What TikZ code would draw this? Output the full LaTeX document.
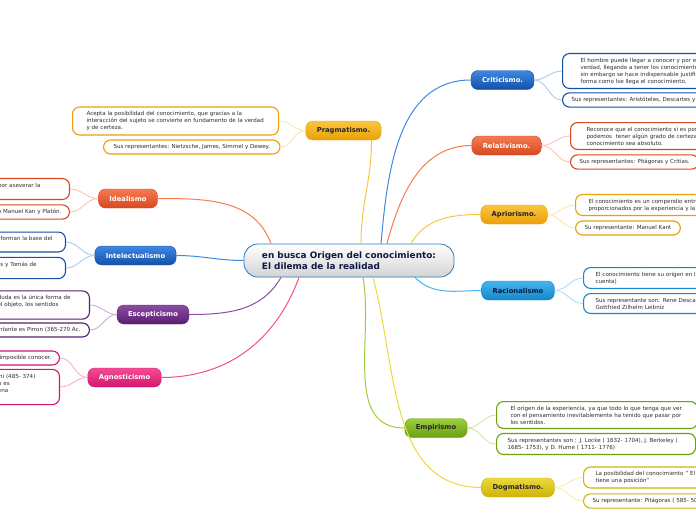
\documentclass[tikz,border=0pt]{standalone}
\usepackage{fontspec}
\setmainfont{DejaVu Sans}
\usetikzlibrary{positioning}

\definecolor{azulA}{HTML}{3D88E2}\definecolor{azulB}{HTML}{1550A8}
\definecolor{rojoA}{HTML}{F47B52}\definecolor{rojoB}{HTML}{D8481F}
\definecolor{oroA}{HTML}{FAC63E}\definecolor{oroB}{HTML}{E9A008}
\definecolor{celesteA}{HTML}{44B6EE}\definecolor{celesteB}{HTML}{1586CA}
\definecolor{verdeA}{HTML}{9CCD3C}\definecolor{verdeB}{HTML}{6AA012}
\definecolor{amarilloA}{HTML}{ECD840}\definecolor{amarilloB}{HTML}{CDB406}
\definecolor{moradoA}{HTML}{8C4CA4}\definecolor{moradoB}{HTML}{571F70}
\definecolor{rosaA}{HTML}{F44C94}\definecolor{rosaB}{HTML}{D21670}
\definecolor{marco}{HTML}{2C7CBC}
\definecolor{tinta}{HTML}{0C1A44}

\begin{document}
\begin{tikzpicture}[x=1pt, y=-1pt,
    tema/.style n args={3}{rounded corners=7pt, top color=#1, bottom color=#2, draw=#2, text=#3,
      font=\fontsize{6.8}{8}\selectfont\bfseries, minimum height=19pt, inner xsep=11pt, inner ysep=0pt},
    hoja/.style={draw=#1, fill=white, line width=1.1pt, rounded corners=7pt, align=left,
      font=\fontsize{5.55}{7}\selectfont, text=black!82, inner xsep=9pt, inner ysep=4.3pt},
    centro/.style={rounded corners=14pt, top color=white, bottom color=black!17, draw=marco,
      line width=0.8pt, font=\fontsize{8.9}{11.2}\selectfont\bfseries, text=tinta, align=left,
      inner xsep=18pt, minimum height=33pt},
    enlace/.style={draw=#1, line width=1pt},
    rama/.style={draw=#1!45, line width=0.9pt}]
  \useasboundingbox (0,0) rectangle (696,520);
  \clip (0,0) rectangle (696,520);

  % Nodos
  \node[centro] (c) at (349,260.5) {en busca Origen del conocimiento:\\El dilema de la realidad};

  \node[tema={azulA}{azulB}{white}] (crit) at (502.5,80) {Criticismo.};
  \node[tema={rojoA}{rojoB}{white}] (rel) at (506.5,145.5) {Relativismo.};
  \node[tema={oroA}{oroB}{black!85}] (apr) at (514,214.5) {Apriorismo.};
  \node[tema={celesteA}{celesteB}{tinta}] (rac) at (518,290.5) {Racionalismo};
  \node[tema={verdeA}{verdeB}{black!85}] (emp) at (436,428) {Empirismo};
  \node[tema={amarilloA}{amarilloB}{black!85}] (dog) at (518,487.5) {Dogmatismo.};
  \node[tema={oroA}{oroB}{black!85}] (prag) at (343.5,130.5) {Pragmatismo.};
  \node[tema={rojoA}{rojoB}{white}] (idea) at (128,198.5) {Idealismo};
  \node[tema={azulA}{azulB}{white}] (inte) at (135.5,255.5) {Intelectualismo};
  \node[tema={moradoA}{moradoB}{white}] (esce) at (153,314.5) {Escepticismo};
  \node[tema={rosaA}{rosaB}{white}] (agno) at (124.5,377.5) {Agnosticismo};

  % Hojas derecha
  \node[hoja=azulB, anchor=west, inner xsep=18pt, text width=185pt] (critA) at (562,71)
    {El hombre puede llegar a conocer y por ende alcanzar la\\verdad, llegando a tener los conocimientos necesarios,\\sin embargo se hace indispensable justificar de alguna\\forma como lse llega el conocimiento.};
  \node[hoja=azulB, anchor=west] (critB) at (562,100)
    {Sus representantes: Aristóteles, Descartes y Kant.};
  \node[hoja=rojoB, anchor=west, inner xsep=16pt, text width=185pt] (relA) at (570,136)
    {Reconoce que el conocimiento si es posible, pero\\podemos\ \ tener algún grado de certeza, sin que el\\conocimiento sea absoluto.};
  \node[hoja=rojoB, anchor=west] (relB) at (570,162)
    {Sus representantes: Pitágoras y Critias.};
  \node[hoja=oroB, anchor=west, inner xsep=13pt, text width=185pt] (aprA) at (575,205)
    {El conocimiento es un compendio entre los elementos\\proporcionados por la experiencia y la razón.};
  \node[hoja=oroB, anchor=west] (aprB) at (575,228)
    {Su representante: Manuel Kant};
  \node[hoja=celesteB, anchor=west, inner xsep=12pt, text width=185pt] (racA) at (583,278)
    {El conocimiento tiene su origen en la razón (por su propia\\cuenta)};
  \node[hoja=celesteB, anchor=west, inner xsep=12pt, text width=185pt] (racB) at (583,303.5)
    {Sus representante son: Rene Descartes, Baruch Spinoza y\\Gottfried Zilhelm Leibniz};
  \node[hoja=verdeB, anchor=west, inner xsep=14pt, text width=173pt] (empA) at (496,415)
    {El origen de la experiencia, ya que todo lo que tenga que ver\\con el pensamiento inevitablemente ha tenido que pasar por\\los sentidos.};
  \node[hoja=verdeB, anchor=west, inner xsep=11pt, text width=177pt] (empB) at (496,444)
    {Sus representantes son : J. Locke ( 1632- 1704), J. Berkeley (\\1685- 1753), y D. Hume ( 1711- 1776)};
  \node[hoja=amarilloB, anchor=west, inner xsep=12pt, text width=185pt] (dogA) at (583,477.5)
    {La posibilidad del conocimiento " El pensamiento no\\tiene una posición"};
  \node[hoja=amarilloB, anchor=west] (dogB) at (583,501)
    {Su representante: Pitágoras ( 585- 500 a.C.)};

  % Hojas izquierda
  \node[hoja=oroB, anchor=west, inner xsep=14pt, text width=178pt] (pragA) at (72,121)
    {Acepta la posibilidad del conocimiento, que gracias a la\\interacción del sujeto se convierte en fundamento de la verdad\\y de certeza.};
  \node[hoja=oroB, anchor=west, inner xsep=10pt] (pragB) at (103,147)
    {Sus representantes: Nietzsche, James, Simmel y Dewey.};
  \node[hoja=rojoB, anchor=east, inner xsep=8pt, text width=147pt] (ideaA) at (70,189)
    {Los idealistas se caracterizan por aseverar la\\primacía de las ideas.};
  \node[hoja=rojoB, anchor=east, inner xsep=8pt] (ideaB) at (70,212)
    {Sus representantes son Manuel Kan y Platón.};
  \node[hoja=azulB, anchor=east, inner xsep=13pt] (inteA) at (66,242)
    {El pensamiento y la experiencia forman la base del\\conocimiento.};
  \node[hoja=azulB, anchor=east, inner xsep=8pt, text width=151pt] (inteB) at (66,268)
    {Sus representantes son Aristóteles y Tomás de\\Aquino.};
  \node[hoja=moradoB, anchor=east, inner xsep=8pt, text width=224pt] (esceA) at (90,305)
    {Considera que el sujeto no puede conocer, que la duda es la única forma de\\actuar, pues el sujeto no es capaz de aprehender el objeto, los sentidos\\engañan.};
  \node[hoja=moradoB, anchor=east] (esceB) at (90,330)
    {Su representante es Pirron (365-270 Ac.};
  \node[hoja=rosaB, anchor=east, inner xsep=8pt] (agnoA) at (60,358)
    {El agnosticismo afirma que es imposible conocer.};
  \node[hoja=rosaB, anchor=east, inner xsep=8pt, text width=236pt] (agnoB) at (60,387)
    {Sus representantes son Protágoras de Abdera y Gorgias de Leontini (485- 374)\\a.C., quienes decían que el conocimiento absoluto de la verdad no es\\posible, dado que el ser humano no cuenta con una capacidad plena\\para conocer.};

  % Enlaces
  \draw[enlace=azulA] ([xshift=32pt]c.north) to[out=85,in=180] (crit.west);
  \draw[enlace=rojoA] ([xshift=38pt]c.north) to[out=75,in=180] (rel.west);
  \draw[enlace=oroA] ([xshift=62pt]c.north) to[out=60,in=180] (apr.west);
  \draw[enlace=celesteA] ([xshift=66pt]c.south) to[out=-45,in=180] (rac.west);
  \draw[enlace=verdeA] ([xshift=14pt]c.south) to[out=-80,in=180] (emp.west);
  \draw[enlace=amarilloA] ([xshift=24pt]c.south) to[out=-75,in=180] (dog.west);
  \draw[enlace=oroA] ([xshift=12pt]c.north) to[out=90,in=-90] ([xshift=28pt]prag.south);
  \draw[enlace=rojoA] (idea.east) to[out=0,in=110] ([xshift=-78pt]c.north);
  \draw[enlace=azulA] (inte.east) to[out=0,in=180] (c.west);
  \draw[enlace=moradoA] (esce.east) to[out=0,in=-120] ([xshift=-68pt]c.south);
  \draw[enlace=rosaA] (agno.east) to[out=0,in=-110] ([xshift=-50pt]c.south);

  % Ramas
  \foreach \t/\h/\k in {crit/critA/azulA, crit/critB/azulA, rel/relA/rojoA, rel/relB/rojoA,
      apr/aprA/oroA, apr/aprB/oroA, rac/racA/celesteA, rac/racB/celesteA,
      emp/empA/verdeA, emp/empB/verdeA, dog/dogA/amarilloA, dog/dogB/amarilloA}
    \draw[rama=\k] (\t.east) to[out=0,in=180] (\h.west);
  \foreach \t/\h/\k in {prag/pragA/oroA, prag/pragB/oroA, idea/ideaA/rojoA, idea/ideaB/rojoA,
      inte/inteA/azulA, inte/inteB/azulA, esce/esceA/moradoA, esce/esceB/moradoA,
      agno/agnoA/rosaA, agno/agnoB/rosaA}
    \draw[rama=\k] (\t.west) to[out=180,in=0] (\h.east);
\end{tikzpicture}
\end{document}
